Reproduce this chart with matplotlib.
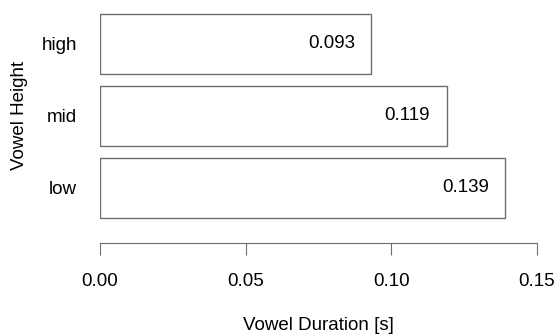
import matplotlib
matplotlib.use("Agg")
import matplotlib.pyplot as plt

# mean vowel duration by vowel height (bottom to top)
heights = ["low", "mid", "high"]
durations = [0.139, 0.119, 0.093]
xticks = [0.00, 0.05, 0.10, 0.15]
xtick_labels = ["0.00", "0.05", "0.10", "0.15"]

plt.rcParams["font.family"] = ["Liberation Sans", "DejaVu Sans"]
fs = 13.5
grey = "#6e6e6e"

W, H = 558, 335
fig = plt.figure(figsize=(W / 100, H / 100), dpi=100)
ax = fig.add_axes([100 / W, (H - 243) / H, 437 / W, 243 / H])

# R-style barplot positions: width 1, space 0.2
ypos = [0.7 + 1.2 * i for i in range(len(heights))]
ax.barh(ypos, durations, height=1.0, color="white", edgecolor=grey, linewidth=1.0)

for y, d in zip(ypos, durations):
    ax.text(d - 0.0135, y, "%.3f" % d, ha="center", va="center", fontsize=fs, color="black")

ax.set_xlim(0, 0.15)
ax.set_ylim(-13 / 60, 3.6 + 14 / 60)

for s in ["top", "right", "left"]:
    ax.spines[s].set_visible(False)
ax.spines["bottom"].set_color(grey)
ax.spines["bottom"].set_bounds(0, 0.15)
ax.set_xticks(xticks)
ax.set_xticklabels(xtick_labels, fontsize=fs)
ax.tick_params(axis="x", length=8.6, color=grey, pad=13)
ax.set_yticks(ypos)
ax.set_yticklabels(heights, fontsize=fs)
ax.tick_params(axis="y", length=0, pad=16.5)

fig.text(318.5 / W, 1 - 325 / H, "Vowel Duration [s]", ha="center", va="center", fontsize=fs)
fig.text(20 / W, 1 - 115 / H, "Vowel Height", ha="center", va="center", rotation=90, fontsize=fs)

fig.savefig("out.png", dpi=100)
